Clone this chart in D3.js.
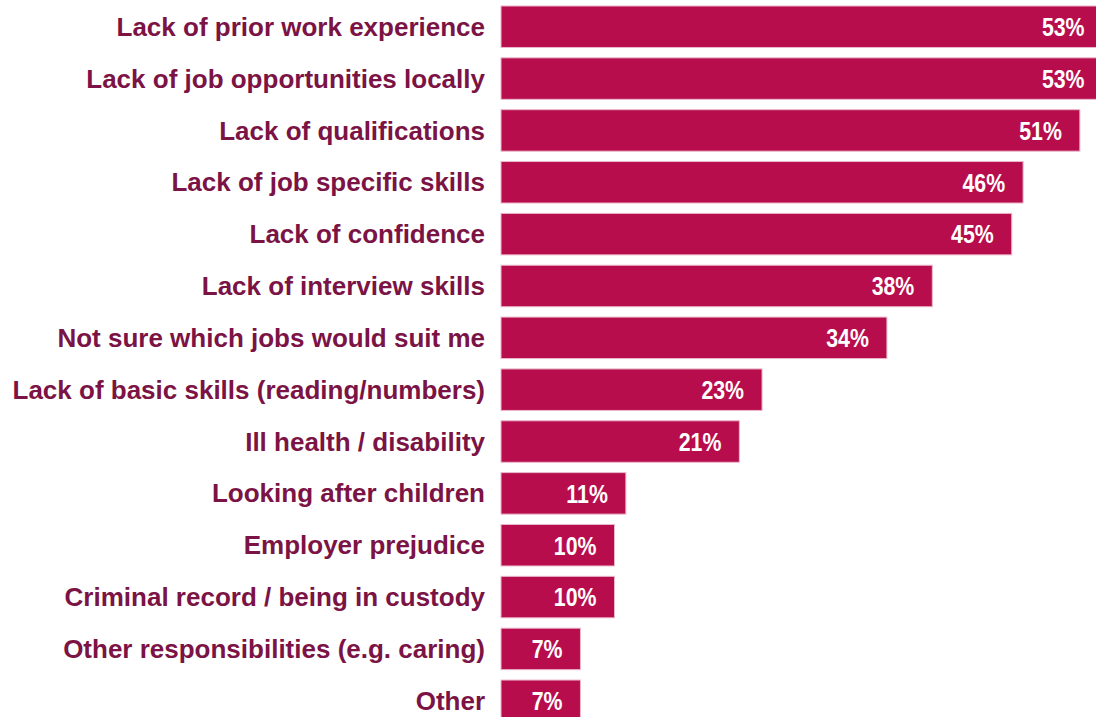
<!DOCTYPE html>
<html>
<head>
<meta charset="utf-8">
<script src="https://cdn.jsdelivr.net/npm/d3@7"></script>
<style>
  html, body { margin: 0; padding: 0; background: #ffffff; }
  svg { display: block; }
</style>
</head>
<body>
<svg id="chart" width="1096" height="717"></svg>
<script>
// Barriers to finding work, share of respondents (%)
const categories = [
  "Lack of prior work experience",
  "Lack of job opportunities locally",
  "Lack of qualifications",
  "Lack of job specific skills",
  "Lack of confidence",
  "Lack of interview skills",
  "Not sure which jobs would suit me",
  "Lack of basic skills (reading/numbers)",
  "Ill health / disability",
  "Looking after children",
  "Employer prejudice",
  "Criminal record / being in custody",
  "Other responsibilities (e.g. caring)",
  "Other"
];
const values = [53, 53, 51, 46, 45, 38, 34, 23, 21, 11, 10, 10, 7, 7];
const valueLabels = values.map(v => v + "%");

const svg = d3.select("#chart");
const left = 501;

const x = d3.scaleLinear().domain([0, 1]).range([left, left + 11.35]);
const y = d3.scaleBand()
  .domain(categories)
  .range([6 - 5.2, 6 - 5.2 + 51.85 * categories.length])
  .paddingInner(0.2)
  .paddingOuter(0.1);

const rows = svg.selectAll("g.row")
  .data(categories.map((c, i) => ({ c, v: values[i], t: valueLabels[i] })))
  .join("g")
  .attr("class", "row");

rows.append("rect")
  .attr("x", x(0))
  .attr("y", d => y(d.c))
  .attr("width", d => x(d.v) - x(0))
  .attr("height", y.bandwidth())
  .attr("fill", "#b80d4c")
  .attr("stroke", "#e9b8c9")
  .attr("stroke-width", 1);

// Category names, right-aligned against the bars
rows.append("text")
  .attr("x", 485)
  .attr("y", d => y(d.c) + y.bandwidth() / 2)
  .attr("dy", "0.35em")
  .attr("text-anchor", "end")
  .attr("fill", "#7b1345")
  .style("font-family", "'Liberation Sans', Arial, sans-serif")
  .style("font-weight", "bold")
  .style("font-size", "26px")
  .text(d => d.c);

// Value labels inside the bar ends, in a condensed face
rows.append("text")
  .attr("transform", d => `translate(${x(d.v) - 18},${y(d.c) + y.bandwidth() / 2}) scale(0.82,1)`)
  .attr("dy", "0.36em")
  .attr("text-anchor", "end")
  .attr("fill", "#ffffff")
  .style("font-family", "'Liberation Sans', Arial, sans-serif")
  .style("font-weight", "bold")
  .style("font-size", "26px")
  .text(d => d.t);
</script>
</body>
</html>
